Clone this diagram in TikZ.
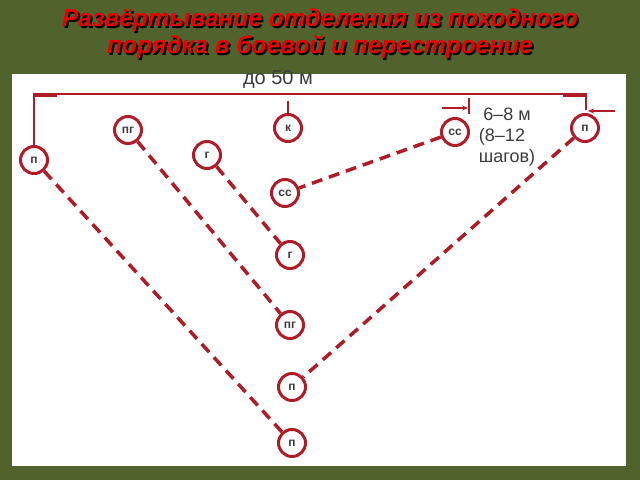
\documentclass[tikz,border=0pt]{standalone}
\usepackage{fontspec}
\setmainfont{Liberation Sans}
\usetikzlibrary{arrows.meta}
\definecolor{bggreen}{RGB}{80,99,44}
\definecolor{dred}{RGB}{175,28,40}
\definecolor{lblgray}{RGB}{60,60,60}
\definecolor{titlered}{RGB}{235,0,0}
\tikzset{
  unit/.style={circle,draw=dred,line width=3pt,fill=white,minimum size=27pt,inner sep=0pt,
    font=\fontsize{12}{12}\selectfont\bfseries,text=lblgray},
  route/.style={draw=dred,line width=3.5pt,dash pattern=on 11pt off 7pt},
  dim/.style={draw=dred,line width=2.2pt},
  dimtext/.style={font=\fontsize{18}{18}\selectfont,text=lblgray,inner sep=0pt},
  titletext/.style={font=\fontsize{24.5}{27}\selectfont\bfseries\itshape,align=center,inner sep=0pt}
}
\begin{document}
\begin{tikzpicture}[x=1pt,y=-1pt]
\useasboundingbox (0,0) rectangle (640,480);
\fill[bggreen] (0,0) rectangle (640,480);
\fill[white] (12,74) rectangle (626,466);
% title
\node[titletext,text=black] (titleshadow) at (322,36) {Развёртывание отделения из походного\\порядка в боевой и перестроение};
\node[titletext,text=titlered] (title) at (320,34) {Развёртывание отделения из походного\\порядка в боевой и перестроение};
% units
\node[unit] (pl) at (34,160) {п};
\node[unit] (pgt) at (128,130) {пг};
\node[unit] (gt) at (207,155) {г};
\node[unit] (k) at (288,128) {к};
\node[unit] (ssm) at (285,193) {сс};
\node[unit] (gl) at (290,255) {г};
\node[unit] (pgl) at (290,325) {пг};
\node[unit] (pm) at (292,387) {п};
\node[unit] (pb) at (292,443) {п};
\node[unit] (ssr) at (455,132) {сс};
\node[unit] (pr) at (585,128) {п};
% routes
\draw[route] (pl) -- (pb);
\draw[route] (pgt) -- (pgl);
\draw[route] (gt) -- (gl);
\draw[route] (ssr) -- (ssm);
\draw[route] (pr) -- (pm);
% stem of k
\coordinate (kt) at (288,101);
\draw[dim] (k) -- (kt);
% dimension до 50 м
\coordinate (dl) at (34,94);
\coordinate (dr) at (586,94);
\coordinate (drb) at (586,110);
\draw[dim] (pl.north) -- (dl) -- (dr) -- (drb);
\draw[dred,line width=4pt] (33,94.8) -- (57,94.8);
\draw[dred,line width=4pt] (563,94.8) -- (587,94.8);
\node[dimtext,font=\fontsize{20}{20}\selectfont] (d50) at (278,80) {до 50 м};
% dimension 6-8 m
\coordinate (v1) at (469,98);
\coordinate (v2) at (469,114);
\draw[dim] (v1) -- (v2);
\coordinate (a1s) at (442,108);
\coordinate (a1e) at (468,108);
\draw[dim,-{Stealth[length=6pt,width=5pt]}] (a1s) -- (a1e);
\coordinate (a2s) at (615,111);
\coordinate (a2e) at (588,111);
\draw[dim,-{Stealth[length=6pt,width=5pt]}] (a2s) -- (a2e);
\node[dimtext] (t68) at (507,114) {6–8 м};
\node[dimtext] (t812) at (502,137) {(8–12};
\node[dimtext] (tsh) at (507,158) {шагов)};
\end{tikzpicture}
\end{document}
